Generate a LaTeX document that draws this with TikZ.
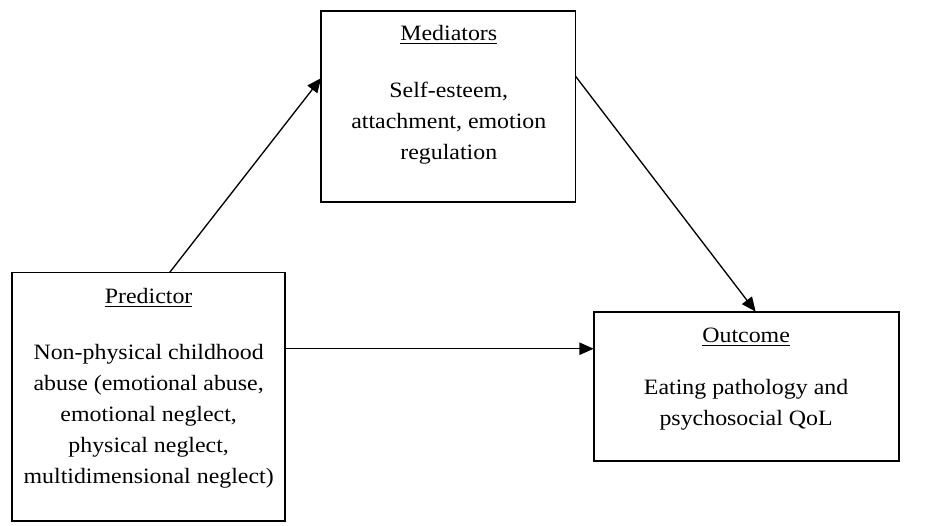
\documentclass[tikz,border=0pt]{standalone}
\usepackage{fontspec}
\setmainfont{Liberation Serif}[FakeStretch=1.09]
\usetikzlibrary{arrows.meta,calc}
\begin{document}
\begin{tikzpicture}[x=0.5pt,y=-0.5pt,
  box/.style={draw, line width=1pt, inner sep=0pt, outer sep=0pt},
  txt/.style={anchor=base, inner sep=0pt, font=\fontsize{11.5pt}{16pt}\selectfont},
  link/.style={line width=0.7pt, -{Triangle[length=7.5pt,width=6.5pt]}}]
\useasboundingbox (0,0) rectangle (976,551);

% boxes
\node[box, minimum width=133.5pt, minimum height=100pt] (med) at (470.5,112) {};
\node[box, minimum width=143pt, minimum height=130.5pt] (pred) at (156,416.5) {};
\node[box, minimum width=160pt, minimum height=78.5pt] (out) at (783,405.5) {};

% mediators text
\node[txt] (medh) at (471,43) {\underline{Mediators}};
\node[txt] (med1) at (471,102) {Self-esteem,};
\node[txt] (med2) at (471,134.5) {attachment, emotion};
\node[txt] (med3) at (471,167) {regulation};

% predictor text
\node[txt] (predh) at (156,318) {\underline{Predictor}};
\node[txt] (pred1) at (156,377) {Non-physical childhood};
\node[txt] (pred2) at (156,409.5) {abuse (emotional abuse,};
\node[txt] (pred3) at (156,442) {emotional neglect,};
\node[txt] (pred4) at (156,474.5) {physical neglect,};
\node[txt] (pred5) at (156,507) {multidimensional neglect)};

% outcome text
\node[txt] (outh) at (783,359) {\underline{Outcome}};
\node[txt] (out1) at (783,414) {Eating pathology and};
\node[txt] (out2) at (783,446.5) {psychosocial QoL};

% paths
\draw[link] ([xshift=11pt]pred.north) -- ([yshift=15pt]med.west);
\draw[link] ([yshift=16pt]med.east) -- ([xshift=5pt]out.north);
\draw[link] ([yshift=25.25pt]pred.east) -- ([yshift=25.25pt]pred.east -| out.west);
\end{tikzpicture}
\end{document}
